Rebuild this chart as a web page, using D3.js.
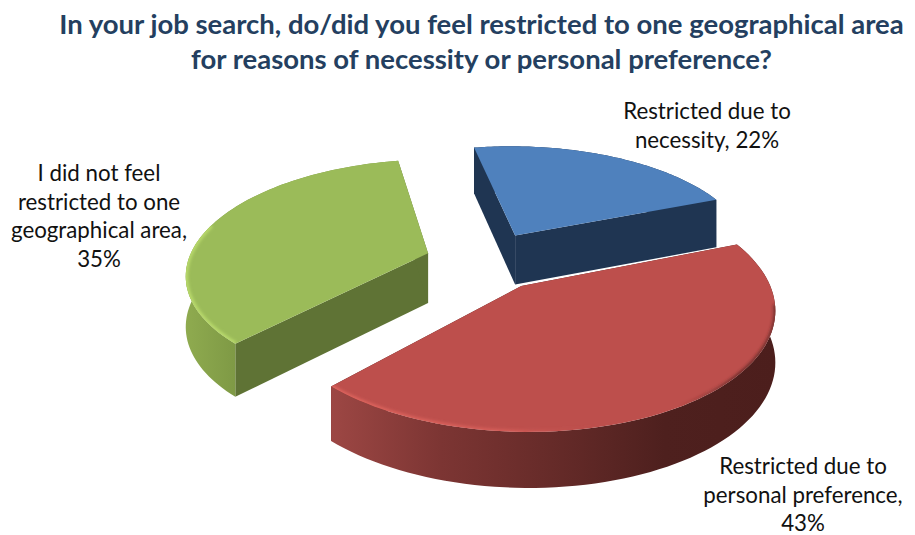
<!DOCTYPE html>
<html>
<head>
<meta charset="utf-8">
<script src="https://cdn.jsdelivr.net/npm/d3@7"></script>
<style>
  html, body { margin: 0; padding: 0; background: #fff; }
  svg { display: block; }
  text { font-family: Lato, "Open Sans", sans-serif; }
</style>
</head>
<body>
<svg id="chart" width="915" height="535"></svg>
<script>
// Survey answers, in pie order clockwise
const categories = ["Restricted due to necessity", "Restricted due to personal preference", "I did not feel restricted to one geographical area"];
const shares = [22, 43, 35];
const topColors = ["#4f81bd", "#bd4f4c", "#9bbb59"];
const cutColors = ["#1f3552", "#4f201e", "#5f7335"];
const titleLines = [
  "In your job search, do/did you feel restricted to one geographical area",
  "for reasons of necessity or personal preference?"
];
const labelLines = [
  ["Restricted due to", "necessity, 22%"],
  ["Restricted due to", "personal preference,", "43%"],
  ["I did not feel", "restricted to one", "geographical area,", "35%"]
];
const labelAnchors = [[707, 119], [803, 474], [99, 181]];
const explodes = [0.27, 0.26, 0.25];

const svg = d3.select("#chart");
const defs = svg.append("defs");

// Pie plane: unit circle, tilted and seen in perspective
const rad = Math.PI / 180;
const startAngle = -10.7 * rad;
const perspective = 0.1675;
const depth = 50;
const xScale = d3.scaleLinear().domain([0, 1]).range([485, 725]);
const yScale = d3.scaleLinear().domain([0, 1]).range([261, 149]);

function project(px, py, down) {
  const s = 1 / (1 + perspective * py);
  return [xScale(px * s), yScale(py * s) + (down ? depth * Math.sqrt(s) : 0)];
}

const arcs = d3.pie().sort(null)
  .startAngle(startAngle)
  .endAngle(startAngle + 2 * Math.PI)(shares);

const line = d3.line();

function rimPoints(a, down, from, to) {
  const mid = (a.startAngle + a.endAngle) / 2;
  const e = explodes[a.index];
  const ox = e * Math.sin(mid), oy = e * Math.cos(mid);
  const t0 = from === undefined ? a.startAngle : from;
  const t1 = to === undefined ? a.endAngle : to;
  return d3.range(0, 81).map(i => {
    const t = t0 + (t1 - t0) * i / 80;
    return project(ox + Math.sin(t), oy + Math.cos(t), down);
  });
}
function apex(a, down) {
  const mid = (a.startAngle + a.endAngle) / 2;
  const e = explodes[a.index];
  return project(e * Math.sin(mid), e * Math.cos(mid), down);
}

// Horizontal shading of the outer walls
function wallGradient(id, x0, x1, stops) {
  const g = defs.append("linearGradient").attr("id", id)
    .attr("gradientUnits", "userSpaceOnUse")
    .attr("x1", x0).attr("x2", x1).attr("y1", 0).attr("y2", 0);
  stops.forEach(([o, c, op]) => g.append("stop").attr("offset", o).attr("stop-color", c).attr("stop-opacity", op === undefined ? 1 : op));
}
wallGradient("wall0", 470, 720, [[0, "#1f3552"], [1, "#1f3552"]]);
wallGradient("wall1", 330, 776, [[0, "#9d4744"], [0.25, "#7c3533"], [0.52, "#642a28"], [0.75, "#4e201e"], [1, "#4c1e1c"]]);
wallGradient("wall2", 182, 240, [[0, "#90ac50"], [1, "#7d9844"]]);
wallGradient("edge1", 330, 776, [[0, "#e0665f"], [0.4, "#d85f5a", 0.9], [0.6, "#c0504d", 0], [0.78, "#5a2422", 0], [0.92, "#5a2422", 0.8], [1, "#4c1e1c", 0.6]]);
wallGradient("edge2", 182, 240, [[0, "#b9da6c"], [1, "#b9da6c"]]);

defs.append("filter").attr("id", "soft")
  .attr("x", "-10%").attr("y", "-10%").attr("width", "120%").attr("height", "120%")
  .append("feGaussianBlur").attr("stdDeviation", 1.4);

// Far slice first, the large front slice last so it overlaps the others
const drawOrder = [0, 2, 1];
drawOrder.forEach(i => {
  const a = arcs[i];
  const g = svg.append("g");
  const first = rimPoints(a, false)[0], last = rimPoints(a, false)[80];
  const firstB = rimPoints(a, true)[0], lastB = rimPoints(a, true)[80];
  const ap = apex(a, false), apB = apex(a, true);

  g.append("path").attr("d", line([ap, first, firstB, apB]) + "Z").attr("fill", cutColors[i]);
  g.append("path").attr("d", line([ap, last, lastB, apB]) + "Z").attr("fill", cutColors[i]);

  const wall = rimPoints(a, false).concat(rimPoints(a, true).reverse());
  g.append("path").attr("d", line(wall) + "Z").attr("fill", `url(#wall${i})`);

  const topShape = line([ap].concat(rimPoints(a, false))) + "Z";
  g.append("clipPath").attr("id", `top${i}`).append("path").attr("d", topShape);
  g.append("path").attr("d", topShape).attr("fill", topColors[i]);

  // Soft bevel along the front rim of the top face
  if (i === 1 || i === 2) {
    const front = i === 1
      ? rimPoints(a, false, a.startAngle + 30 * rad, a.endAngle)
      : rimPoints(a, false, a.startAngle, a.startAngle + 62 * rad);
    g.append("g").attr("clip-path", `url(#top${i})`)
      .append("path").attr("d", line(front))
      .attr("fill", "none")
      .attr("stroke", `url(#edge${i})`)
      .attr("stroke-width", i === 1 ? 4 : 4.5)
      .attr("filter", "url(#soft)");
  }
});

// Chart title
svg.append("g").selectAll("text").data(titleLines).join("text")
  .attr("x", 481.5)
  .attr("y", (d, i) => 34 + i * 35)
  .attr("text-anchor", "middle")
  .attr("font-size", 27.5)
  .attr("font-weight", 700)
  .attr("fill", "#243f60")
  .text(d => d);

// Slice labels
labelLines.forEach((lines, i) => {
  svg.append("g").selectAll("text").data(lines).join("text")
    .attr("x", labelAnchors[i][0])
    .attr("y", (d, j) => labelAnchors[i][1] + j * 28.5)
    .attr("text-anchor", "middle")
    .attr("font-size", 22.3)
    .attr("fill", "#111")
    .text(d => d);
});
</script>
</body>
</html>
